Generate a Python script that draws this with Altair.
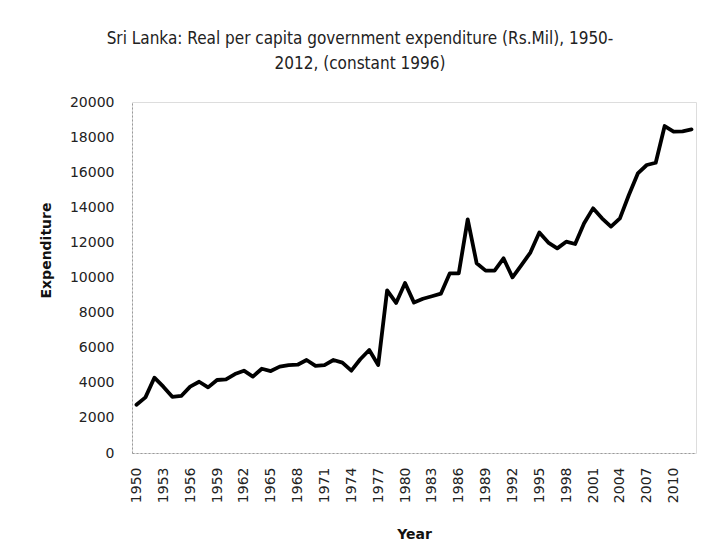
import altair as alt
import pandas as pd

years = list(range(1950, 2013))
expenditure = [
    2750, 3170, 4290, 3780, 3200, 3250, 3780, 4060, 3740, 4160,
    4200, 4500, 4690, 4350, 4800, 4670, 4920, 5010, 5030, 5300,
    4960, 5010, 5300, 5150, 4690, 5340, 5870, 5010, 9270, 8550,
    9690, 8570, 8790, 8930, 9080, 10240, 10240, 13310, 10810, 10390,
    10390, 11090, 10010, 10710, 11420, 12560, 11990, 11660, 12040, 11910,
    13090, 13940, 13370, 12900, 13370, 14700, 15930, 16410, 16540, 18630,
    18310, 18330, 18440,
]
x_ticks = list(range(1950, 2011, 3))
y_ticks = list(range(0, 20001, 2000))
title_lines = [
    "Sri Lanka: Real per capita government expenditure (Rs.Mil), 1950-",
    "2012, (constant 1996)",
]

df = pd.DataFrame({"Year": years, "Expenditure": expenditure})

FONT = "DejaVu Sans Condensed, Roboto, DejaVu Sans"
AXFONT = "DejaVu Sans"

chart = (
    alt.Chart(df)
    .mark_line(color="#000000", strokeWidth=3.8, strokeJoin="round", strokeCap="round")
    .encode(
        x=alt.X(
            "Year:Q",
            scale=alt.Scale(domain=[1949.5, 2012.5], nice=False, zero=False),
            axis=alt.Axis(
                title="Year",
                values=x_ticks,
                format="d",
                labelAngle=270,
                labelFont=AXFONT,
                labelFontSize=14,
                labelColor="#222222",
                labelPadding=14,
                ticks=False,
                grid=False,
                domainColor="#9a9a9a",
                domainDash=[2, 2],
                domainWidth=1,
                titleFont=AXFONT,
                titleFontSize=14,
                titleFontWeight="bold",
                titleColor="#111111",
                titleY=81,
                titleBaseline="middle",
            ),
        ),
        y=alt.Y(
            "Expenditure:Q",
            scale=alt.Scale(domain=[0, 20000], nice=False),
            axis=alt.Axis(
                title="Expenditure",
                values=y_ticks,
                format="d",
                labelFont=AXFONT,
                labelFontSize=14,
                labelColor="#222222",
                labelPadding=18,
                ticks=False,
                grid=False,
                domainColor="#9a9a9a",
                domainDash=[2, 2],
                domainWidth=1,
                titleFont=AXFONT,
                titleFontSize=14,
                titleFontWeight="bold",
                titleColor="#111111",
                titleAngle=270,
                titleX=-86,
                titleY=148,
                titleAlign="center",
                titleBaseline="middle",
            ),
        ),
    )
    .properties(
        width=564,
        height=351,
        padding={"left": 124, "top": 94, "right": 7, "bottom": 90},
        autosize=alt.AutoSizeParams(type="none"),
        title=alt.TitleParams(
            text=title_lines,
            font=FONT,
            fontSize=17,
            fontWeight="normal",
            color="#222222",
            lineHeight=25,
            anchor="middle",
            offset=22,
            dx=-54,
        ),
    )
    .configure_view(stroke=None)
    .configure(background="#ffffff")
)

chart.save("out.html", embed_options={"renderer": "svg", "actions": False})
